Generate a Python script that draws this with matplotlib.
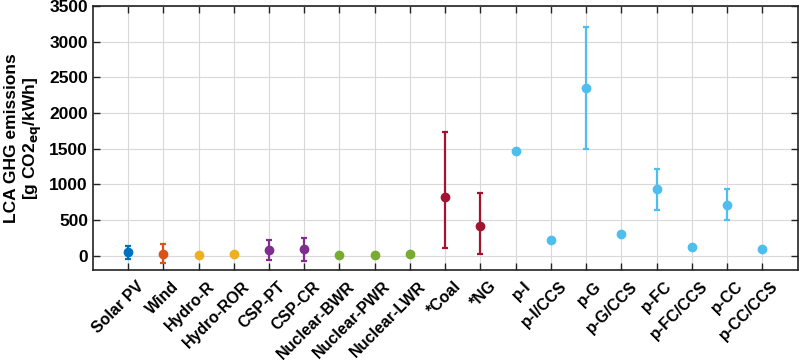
import numpy as np
import matplotlib
matplotlib.use("Agg")
from matplotlib import pyplot as plt
from matplotlib.transforms import ScaledTranslation, blended_transform_factory

# categories and values
labels = ["Solar PV", "Wind", "Hydro-R", "Hydro-ROR", "CSP-PT", "CSP-CR",
          "Nuclear-BWR", "Nuclear-PWR", "Nuclear-LWR", "*Coal", "*NG",
          "p-I", "p-I/CCS", "p-G", "p-G/CCS", "p-FC", "p-FC/CCS", "p-CC", "p-CC/CCS"]
values = [50, 30, 18, 28, 84, 94, 14, 14, 22, 824, 421,
          1474, 225, 2349, 309, 931, 122, 712, 89]
lower = [-40, -103, 18, 28, -56, -70, 14, 14, 22, 103, 28,
         1474, 225, 1493, 309, 646, 122, 496, 89]
upper = [140, 168, 18, 28, 215, 248, 14, 14, 22, 1741, 880,
         1474, 225, 3211, 309, 1217, 122, 931, 89]
groups = [0, 1, 2, 2, 3, 3, 4, 4, 4, 5, 5, 6, 6, 6, 6, 6, 6, 6, 6]
group_colors = ["#0072BD", "#D95319", "#EDB120", "#7E2F8E", "#77AC30", "#A2142F", "#4DBEEE"]

plt.rcParams['font.family'] = ['Liberation Sans', 'DejaVu Sans']

fig = plt.figure(figsize=(8, 3.63), dpi=100)
ax = fig.add_axes([0.116, 0.256, 0.881, 0.727])

x = np.arange(1, len(labels) + 1)
for i in range(len(labels)):
    c = group_colors[groups[i]]
    err = [[values[i] - lower[i]], [upper[i] - values[i]]]
    ax.errorbar(x[i], values[i], yerr=err, fmt='o', color=c, ecolor=c,
                markersize=6, elinewidth=1.6, capsize=2.5, capthick=1.6, zorder=3)

ax.set_xlim(0, 20)
ax.set_ylim(-200, 3500)
ax.set_yticks(np.arange(0, 3501, 500))
ax.set_xticks(x)
ax.set_xticklabels([])

# rotated category labels, end of text a bit right of the tick like matlab does
trans = blended_transform_factory(ax.transData, ax.transAxes) + \
    ScaledTranslation(0.08, -0.085, fig.dpi_scale_trans)
for xi, lab in zip(x, labels):
    ax.text(xi, 0, lab, transform=trans, rotation=45, ha='right', va='top',
            rotation_mode='anchor', fontweight='bold', fontsize=11.5, color='black')

for t in ax.get_yticklabels():
    t.set_fontweight('bold')
    t.set_fontsize(12.5)
ax.tick_params(direction='in', top=True, right=True, length=5, width=1, color='#222222')
ax.grid(True, color='#d9d9d9', linewidth=0.8)
ax.set_axisbelow(True)
for s in ax.spines.values():
    s.set_linewidth(1.2)
    s.set_color('#222222')

ax.set_ylabel("LCA GHG emissions\n[g CO2$_{\\mathbf{eq}}$/kWh]", fontweight='bold', fontsize=12.5,
              labelpad=4)

fig.savefig("out.png", dpi=100)
